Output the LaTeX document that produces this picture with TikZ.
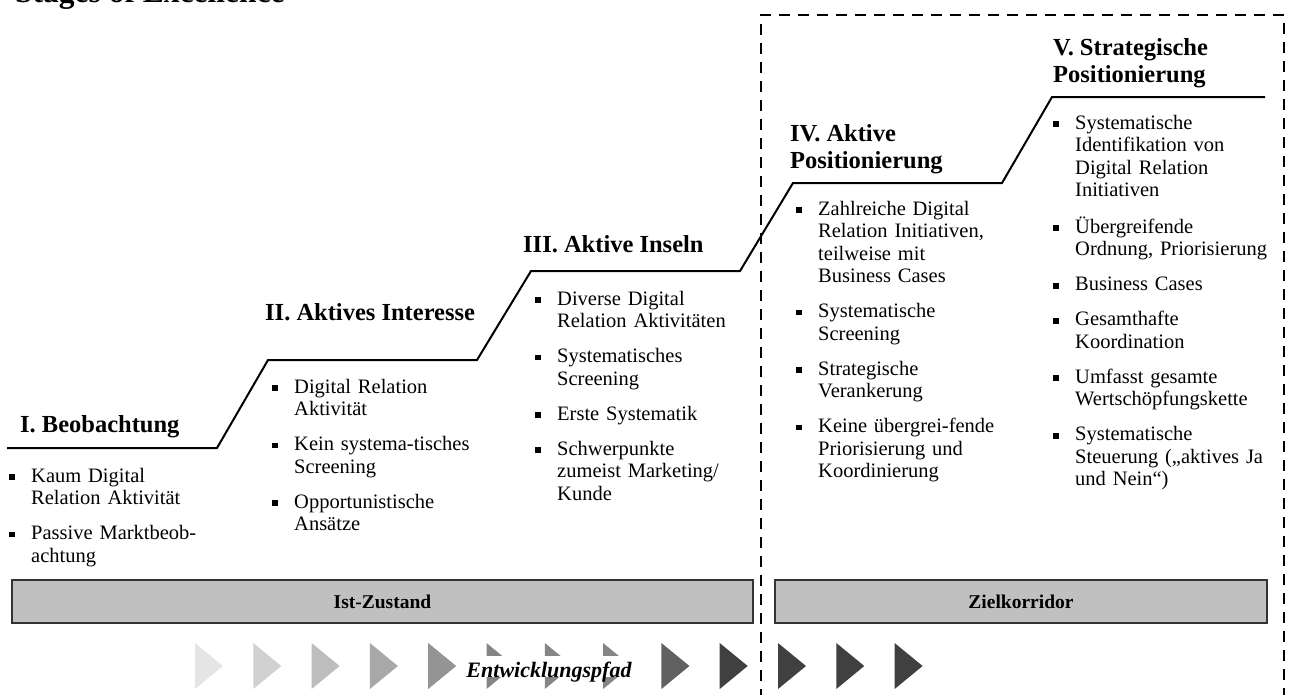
\documentclass[tikz,border=0pt]{standalone}
\usepackage{fontspec}
\setmainfont{Liberation Serif}
\usetikzlibrary{positioning}
\definecolor{barfill}{HTML}{C0C0C0}
\definecolor{arrowdark}{HTML}{404040}
% square bullet and one list entry (bullet + hanging block)
\newcommand\bsq{\rule[0.11em]{0.28em}{0.28em}}
\newcommand\bitem[1]{\setlength{\parskip}{12.5pt}\noindent\makebox[22pt][l]{\bsq}\parbox[t]{230pt}{\strut#1\strut}\par\prevdepth=\dp\strutbox}
\tikzset{
	heading/.style={anchor=base west, inner sep=0pt, align=left, font=\fontsize{24.5}{27}\selectfont\bfseries},
	itemlist/.style={anchor=base west, inner sep=0pt, text width=260pt, font=\fontsize{20.5}{22.5}\selectfont},
	stair/.style={line width=2pt, line join=miter},
	bar/.style={draw=black!80, line width=2.2pt, fill=barfill, inner sep=0pt, minimum height=43pt, font=\fontsize{19.5}{22}\selectfont\bfseries},
	corridor/.style={line width=2.5pt, dash pattern=on 11pt off 8pt},
	pathlabel/.style={anchor=base, fill=white, inner sep=0pt, text height=21pt, text depth=0pt, font=\fontsize{22}{24}\selectfont\bfseries\itshape}
}

\begin{document}
\begin{tikzpicture}[x=1pt, y=-1pt]
	\useasboundingbox (0,0) rectangle (1289,694);
	\clip (0,0) rectangle (1289,694);
	
	% --- Title ---
	\node[anchor=base west, inner sep=0pt, font=\fontsize{31.5}{36}\selectfont\bfseries] (title) at (15,2) {Stages of Excellence};
	
	% --- Stairs ---
	\draw[stair] (7,448) -- (217,448) -- (268,360) -- (477,360) -- (531,271) -- (740,271)
		-- (793,183) -- (1002,183) -- (1052,97) -- (1265,97);
	
	% --- Stage headings ---
	\node[heading] (hI) at (20,432) {I. Beobachtung};
	\node[heading] (hII) at (265,320) {II. Aktives Interesse};
	\node[heading] (hIII) at (523,252) {III. Aktive Inseln};
	\node[heading] (hIV) at (790,168) {IV. Aktive\\Positionierung};
	\node[heading] (hV) at (1053,82) {V. Strategische\\Positionierung};
	
	% --- Stage contents ---
	\node[itemlist] (lI) at (9,482) {\bitem{Kaum Digital\\Relation Aktivität}\bitem{Passive Marktbeob-\\achtung}};
	\node[itemlist] (lII) at (272,393) {\bitem{Digital Relation\\Aktivität}\bitem{Kein systema-tisches\\Screening}\bitem{Opportunistische\\Ansätze}};
	\node[itemlist] (lIII) at (535,305) {\bitem{Diverse Digital\\Relation Aktivitäten}\bitem{Systematisches\\Screening}\bitem{Erste Systematik}\bitem{Schwerpunkte\\zumeist Marketing/\\Kunde}};
	\node[itemlist] (lIV) at (796,215) {\bitem{Zahlreiche Digital\\Relation Initiativen,\\teilweise mit\\Business Cases}\bitem{Systematische\\Screening}\bitem{Strategische\\Verankerung}\bitem{Keine übergrei-fende\\Priorisierung und\\Koordinierung}};
	\node[itemlist] (lV) at (1053,129) {\bitem{Systematische\\Identifikation von\\Digital Relation\\Initiativen}\bitem{Übergreifende\\Ordnung, Priorisierung}\bitem{Business Cases}\bitem{Gesamthafte\\Koordination}\bitem{Umfasst gesamte\\Wertschöpfungskette}\bitem{Systematische\\Steuerung („aktives Ja\\und Nein“)}};
	
	% --- Bars ---
	\node[bar, minimum width=741pt] (ist) at (382.5,601.5) {Ist-Zustand};
	\node[bar, minimum width=492pt] (ziel) at (1021,601.5) {Zielkorridor};
	
	% --- Development path ---
	\foreach \i/\shade in {0/10, 1/18, 2/26, 3/34, 4/42, 5/48, 6/48, 7/48, 8/62, 9/75, 10/75, 11/75, 12/75}
		\fill[black!\shade] ({195+58.3*\i},643) -- ++(28,23) -- ++(-28,23) -- cycle;
	\node[pathlabel] (pfad) at (549,677) {Entwicklungspfad};
	
	% --- Target corridor ---
	\draw[corridor] (761,700) -- (761,15) -- (1284,15) -- (1284,700);
\end{tikzpicture}
\end{document}
